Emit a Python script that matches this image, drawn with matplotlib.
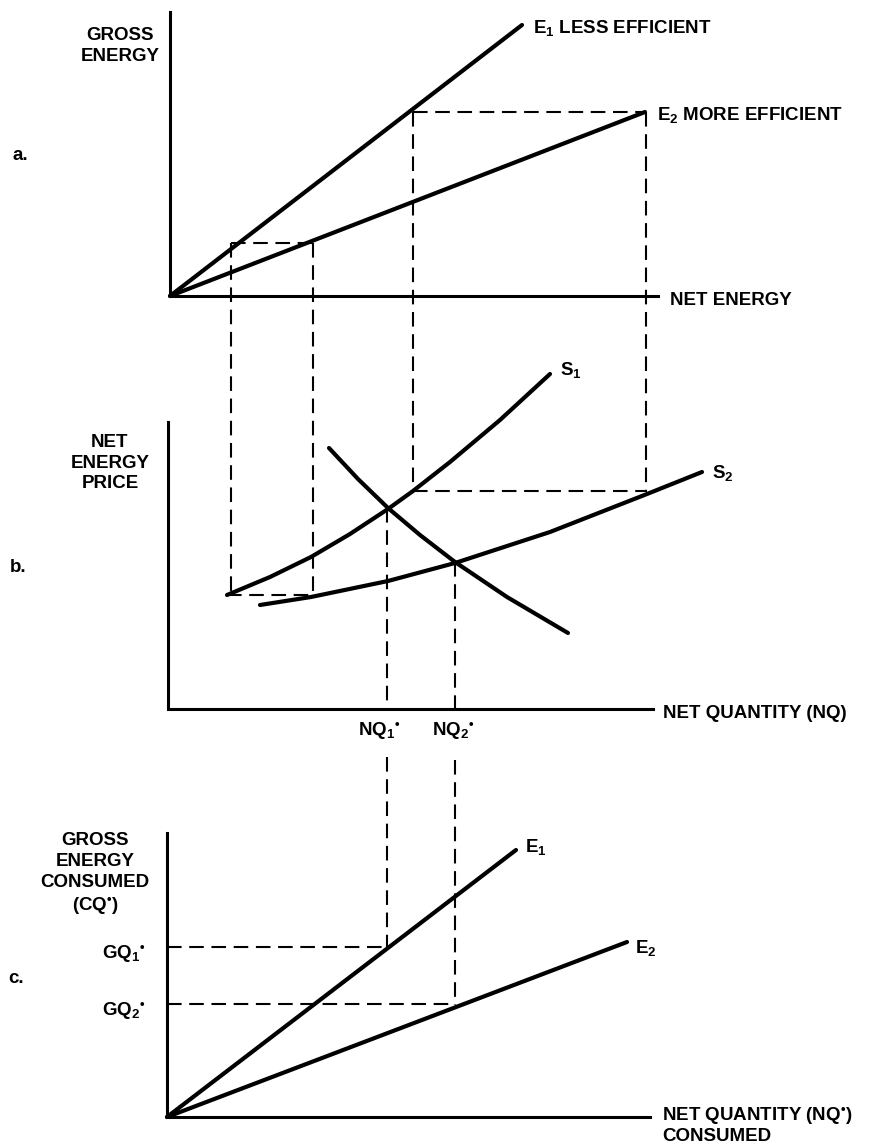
import numpy as np
import matplotlib
matplotlib.use("Agg")
import matplotlib.pyplot as plt

plt.rcParams['font.family'] = ['Liberation Sans', 'DejaVu Sans']
plt.rcParams['font.weight'] = 'bold'
plt.rcParams['mathtext.fontset'] = 'custom'
plt.rcParams['mathtext.rm'] = 'Liberation Sans:bold'
plt.rcParams['mathtext.bf'] = 'Liberation Sans:bold'
plt.rcParams['mathtext.it'] = 'Liberation Sans:bold'
plt.rcParams['lines.scale_dashes'] = False

# diagram units (x right, y down)
# panel a: gross vs net energy
a_achse_x = [170, 170, 658]
a_achse_y = [12, 296, 296]
a_e1_x = [170, 522]
a_e1_y = [296, 25]
a_e2_x = [170, 645]
a_e2_y = [296, 112]

# panel b: supply and demand
b_achse_x = [168, 168, 653]
b_achse_y = [422, 709, 709]
s1_x = [227, 270, 311, 350, 388, 413, 450, 500, 550]
s1_y = [595, 577, 557, 534, 509, 491, 462, 420, 374]
s2_x = [260, 311, 388, 455, 550, 647, 702]
s2_y = [605, 597, 581, 563, 532, 494, 472]
d_x = [329, 358, 388, 420, 455, 507, 568]
d_y = [448, 479, 508, 535, 562, 597, 633]

# panel c: gross energy consumed
c_achse_x = [167, 167, 650]
c_achse_y = [833, 1117, 1117]
c_e1_x = [167, 516]
c_e1_y = [1117, 850]
c_e2_x = [167, 627]
c_e2_y = [1117, 942]

# dashed projection lines (x0, y0, x1, y1)
gestrichelt = [
    (413, 112, 645, 112),
    (231, 243, 313, 243),
    (413, 491, 647, 491),
    (227, 595, 311, 595),
    (231, 243, 231, 595),
    (313, 243, 313, 596),
    (413, 112, 413, 491),
    (646, 112, 646, 492),
    (387, 508, 387, 709),
    (387, 757, 387, 947),
    (455, 562, 455, 709),
    (455, 760, 455, 1005),
    (167, 947, 387, 947),
    (167, 1004, 455, 1004),
]

fig = plt.figure(figsize=(8.79, 11.45), dpi=100)
ax = fig.add_axes([0, 0, 1, 1])
ax.set_xlim(0, 879)
ax.set_ylim(1145, 0)
ax.axis('off')

for x0, y0, x1, y1 in gestrichelt:
    ax.plot([x0, x1], [y0, y1], color='black', lw=1.5, linestyle=(0, (10.5, 5.5)),
            solid_capstyle='butt')

for xs, ys in [(a_achse_x, a_achse_y), (b_achse_x, b_achse_y), (c_achse_x, c_achse_y)]:
    ax.plot(xs, ys, color='black', lw=2.2, solid_joinstyle='miter')

for xs, ys in [(a_e1_x, a_e1_y), (a_e2_x, a_e2_y), (s1_x, s1_y), (s2_x, s2_y),
               (d_x, d_y), (c_e1_x, c_e1_y), (c_e2_x, c_e2_y)]:
    ax.plot(xs, ys, color='black', lw=3.0, solid_capstyle='round', solid_joinstyle='round')

fs = 13.5
kw = dict(fontsize=fs, fontweight='bold', color='black')
dot = '{}^{\u2022}'

# panel letters
ax.text(13, 160, 'a.', ha='left', va='baseline', **kw)
ax.text(10, 572, 'b.', ha='left', va='baseline', **kw)
ax.text(8, 983, 'c.', ha='left', va='baseline', **kw)

# axis titles
ax.text(120, 46, 'GROSS\nENERGY', ha='center', va='center', linespacing=1.3, **kw)
ax.text(110, 463, 'NET\nENERGY\nPRICE', ha='center', va='center', linespacing=1.3, **kw)
ax.text(95, 874, 'GROSS\nENERGY\nCONSUMED\n(CQ$' + dot + '$)', ha='center', va='center',
        linespacing=1.3, **kw)
ax.text(670, 305, 'NET ENERGY', ha='left', va='baseline', **kw)
ax.text(663, 718, 'NET QUANTITY (NQ)', ha='left', va='baseline', **kw)
ax.text(662, 1120, 'NET QUANTITY (NQ$' + dot + '$)', ha='left', va='baseline', **kw)
ax.text(662, 1141, 'CONSUMED', ha='left', va='baseline', **kw)

# curve labels
ax.text(533, 33, r'$\mathbf{E_1}$ LESS EFFICIENT', ha='left', va='baseline', **kw)
ax.text(657, 120, r'$\mathbf{E_2}$ MORE EFFICIENT', ha='left', va='baseline', **kw)
ax.text(560, 375, r'$\mathbf{S_1}$', ha='left', va='baseline', **kw)
ax.text(712, 478, r'$\mathbf{S_2}$', ha='left', va='baseline', **kw)
ax.text(525, 852, r'$\mathbf{E_1}$', ha='left', va='baseline', **kw)
ax.text(635, 953, r'$\mathbf{E_2}$', ha='left', va='baseline', **kw)

# quantity markers
ax.text(358, 735, r'$\mathbf{NQ_1}' + dot + '$', ha='left', va='baseline', **kw)
ax.text(432, 735, r'$\mathbf{NQ_2}' + dot + '$', ha='left', va='baseline', **kw)
ax.text(102, 958, r'$\mathbf{GQ_1}' + dot + '$', ha='left', va='baseline', **kw)
ax.text(102, 1015, r'$\mathbf{GQ_2}' + dot + '$', ha='left', va='baseline', **kw)

fig.savefig('out.png', dpi=100, facecolor='white')
